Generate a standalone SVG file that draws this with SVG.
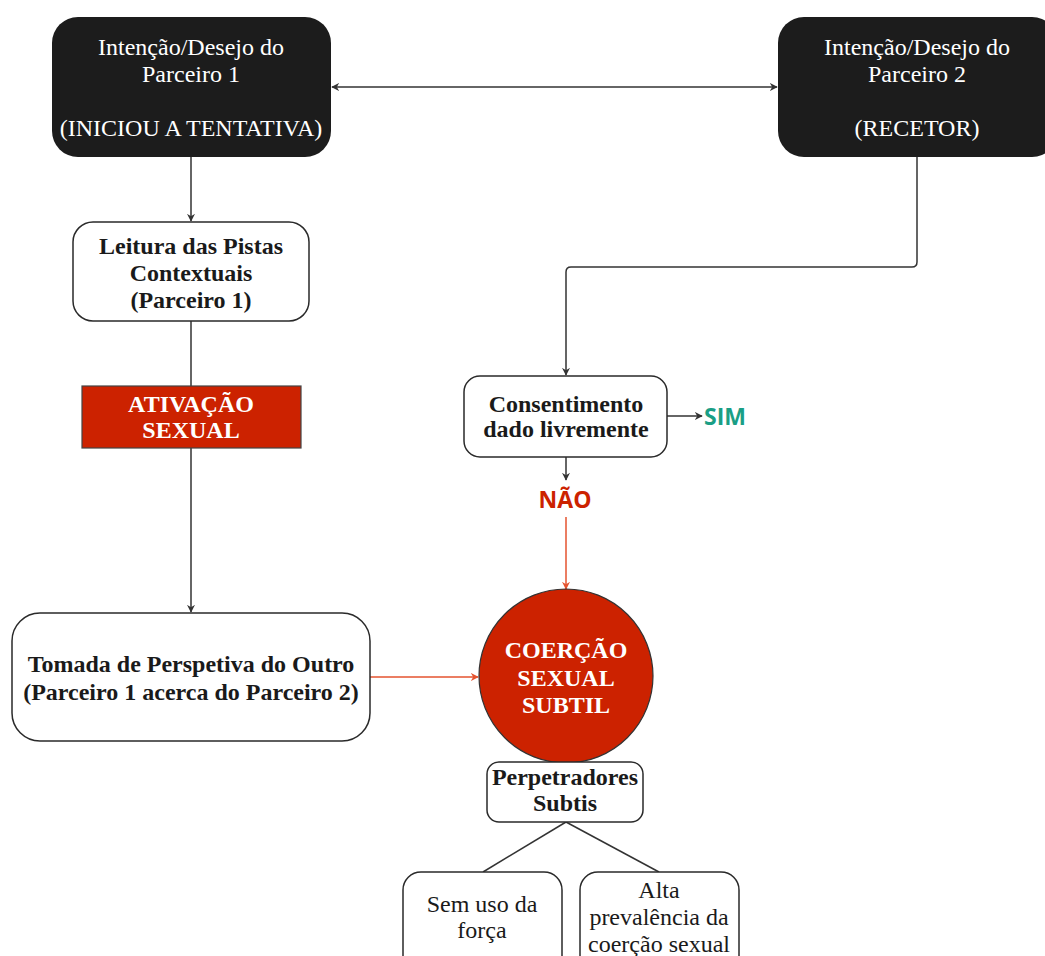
<svg xmlns="http://www.w3.org/2000/svg" width="1045" height="956" viewBox="0 0 1045 956">
<style>
.t{font-family:"Liberation Serif","Times New Roman",serif;font-size:24px;text-anchor:middle}
.b{font-weight:bold}
.w{fill:#ffffff}
.k{fill:#1a1a1a}
.box{fill:#ffffff;stroke:#2a2a2a;stroke-width:1.5}
.dark{fill:#1c1c1c}
.red{fill:#cc2200;stroke:#444;stroke-width:1.2}
.c{fill:none;stroke:#333;stroke-width:1.5}
.cr{fill:none;stroke:#e5532f;stroke-width:1.5}
.s{font-family:"Open Sans","Noto Sans",sans-serif;font-weight:bold;font-size:23px}
</style>
<defs>
<marker id="a" viewBox="0 0 10 10" refX="9" refY="5" markerWidth="8" markerHeight="8" orient="auto-start-reverse" markerUnits="userSpaceOnUse"><path d="M0,0 L10,5 L0,10 L3,5 Z" fill="#333"/></marker>
<marker id="ar" viewBox="0 0 10 10" refX="9" refY="5" markerWidth="8" markerHeight="8" orient="auto" markerUnits="userSpaceOnUse"><path d="M0,0 L10,5 L0,10 L3,5 Z" fill="#e5532f"/></marker>
</defs>
<rect width="1045" height="956" fill="#ffffff"/>
<g id="connectors">
<line class="c" x1="332" y1="87" x2="777" y2="87" marker-start="url(#a)" marker-end="url(#a)"/>
<line class="c" x1="191" y1="157" x2="191" y2="221" marker-end="url(#a)"/>
<line class="c" x1="191" y1="321" x2="191" y2="386"/>
<line class="c" x1="191" y1="448" x2="191" y2="612" marker-end="url(#a)"/>
<path class="c" d="M917,157 V262 Q917,267 912,267 H571 Q566,267 566,272 V375" marker-end="url(#a)"/>
<line class="c" x1="667" y1="416" x2="702" y2="416" marker-end="url(#a)"/>
<line class="c" x1="566" y1="457" x2="566" y2="480" marker-end="url(#a)"/>
<line class="cr" x1="566" y1="517" x2="566" y2="589" marker-end="url(#ar)"/>
<line class="cr" x1="370" y1="677" x2="478" y2="677" marker-end="url(#ar)"/>
<line class="c" x1="566" y1="822" x2="483" y2="872"/>
<line class="c" x1="566" y1="822" x2="659" y2="872"/>
</g>
<g id="n1">
<rect class="dark" x="52" y="17" width="279" height="140" rx="26"/>
<text class="t w" x="191" y="55">Intenção/Desejo do</text>
<text class="t w" x="191" y="82">Parceiro 1</text>
<text class="t w" x="191" y="136">(INICIOU A TENTATIVA)</text>
</g>
<g id="n2">
<rect class="dark" x="778" y="17" width="280" height="140" rx="26"/>
<text class="t w" x="917" y="55">Intenção/Desejo do</text>
<text class="t w" x="917" y="82">Parceiro 2</text>
<text class="t w" x="917" y="136">(RECETOR)</text>
</g>
<g id="n3">
<rect class="box" x="73" y="222" width="236" height="99" rx="20"/>
<text class="t b k" x="191" y="254">Leitura das Pistas</text>
<text class="t b k" x="191" y="281">Contextuais</text>
<text class="t b k" x="191" y="308">(Parceiro 1)</text>
</g>
<g id="n4">
<rect class="red" x="82" y="386" width="219" height="62"/>
<text class="t b w" x="191" y="412">ATIVAÇÃO</text>
<text class="t b w" x="191" y="438">SEXUAL</text>
</g>
<g id="n5">
<rect class="box" x="12" y="613" width="358" height="128" rx="28"/>
<text class="t b k" x="191" y="672">Tomada de Perspetiva do Outro</text>
<text class="t b k" x="191" y="700">(Parceiro 1 acerca do Parceiro 2)</text>
</g>
<g id="n6">
<rect class="box" x="464" y="376" width="203" height="81" rx="16"/>
<text class="t b k" x="566" y="412">Consentimento</text>
<text class="t b k" x="566" y="437">dado livremente</text>
</g>
<g id="n7">
<text class="s" x="704" y="425" fill="#1a9e85">SIM</text>
</g>
<g id="n8">
<text class="s" x="565" y="508" fill="#cc2200" text-anchor="middle">NÃO</text>
</g>
<g id="n9">
<circle cx="566" cy="676" r="87" fill="#cc2200" stroke="#333" stroke-width="1.2"/>
<text class="t b w" x="566" y="658">COERÇÃO</text>
<text class="t b w" x="566" y="686">SEXUAL</text>
<text class="t b w" x="566" y="713">SUBTIL</text>
</g>
<g id="n10">
<rect class="box" x="487" y="762" width="156" height="60" rx="12"/>
<text class="t b k" x="565" y="785">Perpetradores</text>
<text class="t b k" x="565" y="811">Subtis</text>
</g>
<g id="n11">
<rect class="box" x="403" y="872" width="159" height="110" rx="18"/>
<text class="t k" x="482" y="912">Sem uso da</text>
<text class="t k" x="482" y="938">força</text>
</g>
<g id="n12">
<rect class="box" x="580" y="872" width="159" height="110" rx="18"/>
<text class="t k" x="659" y="898">Alta</text>
<text class="t k" x="659" y="925">prevalência da</text>
<text class="t k" x="659" y="952">coerção sexual</text>
</g>
</svg>
